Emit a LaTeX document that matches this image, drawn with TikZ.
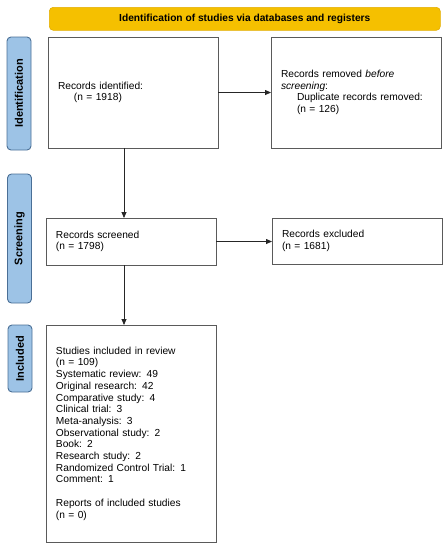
\documentclass[tikz,border=0pt]{standalone}
\usepackage{fontspec}
\setmainfont{Liberation Sans}
\usepackage{tikz}
\usetikzlibrary{arrows.meta,positioning}
\definecolor{prismayellow}{HTML}{F5C000}
\definecolor{prismaedge}{HTML}{E3AE00}
\definecolor{phaseblue}{HTML}{9DC3E6}
\definecolor{phaseedge}{HTML}{4A6F96}
\definecolor{boxedge}{HTML}{5A5A5A}

\begin{document}
\begin{tikzpicture}[x=1pt,y=-1pt,>={Triangle[length=6pt,width=5pt]},
font=\fontsize{10.2}{11.7}\selectfont,
record/.style={draw=boxedge,line width=0.9pt,fill=white,anchor=north west,align=left,
  inner xsep=10pt,inner ysep=0pt,outer sep=0pt,minimum width=170pt,text width=150pt},
phase/.style={draw=phaseedge,line width=0.9pt,fill=phaseblue,rounded corners=4pt,rotate=90,
  minimum height=24pt,inner sep=0pt,font=\fontsize{11}{12}\selectfont\bfseries},
banner/.style={draw=prismaedge,line width=0.6pt,fill=prismayellow,rounded corners=4pt,anchor=north west,
  minimum width=391pt,minimum height=23pt,inner sep=0pt,font=\fontsize{10.2}{12}\selectfont\bfseries},
arrow/.style={->,draw=black!85,line width=0.8pt}]
\useasboundingbox (0,0) rectangle (448,550);
\node[banner] (head) at (49,7) {Identification of studies via databases and registers};
\node[phase,minimum width=113pt] (pid) at (19,93.5) {Identification};
\node[phase,minimum width=129pt] (psc) at (19.5,238.5) {Screening};
\node[phase,minimum width=67pt] (pin) at (20,358.5) {Included};
\node[record,minimum height=111pt] (ident) at (48,37) {Records identified:\\\hspace*{16pt}(n = 1918)};
\node[record,minimum height=111pt] (remov) at (271,37) {Records removed \textit{before}\\\textit{screening}:\\\hspace*{16pt}Duplicate records removed:\\\hspace*{16pt}(n = 126)};
\node[record,minimum height=47pt] (scr) at (46,218) {Records screened\\(n = 1798)};
\node[record,minimum height=46pt] (excl) at (272,218) {Records excluded\\(n = 1681)};
\node[record,minimum height=217pt] (incl) at (46,325) {Studies included in review\\(n = 109)\\Systematic review: 49\\Original research: 42\\Comparative study: 4\\Clinical trial: 3\\Meta-analysis: 3\\Observational study: 2\\Book: 2\\Research study: 2\\Randomized Control Trial: 1\\Comment: 1\\[11.7pt]Reports of included studies\\(n = 0)};
\coordinate (down) at (124,0);
\draw[arrow] (ident) -- (remov);
\draw[arrow] (scr.east) -- (scr.east -| excl.west);
\draw[arrow] (ident.south -| down) -- (scr.north -| down);
\draw[arrow] (scr.south -| down) -- (incl.north -| down);
\end{tikzpicture}
\end{document}
